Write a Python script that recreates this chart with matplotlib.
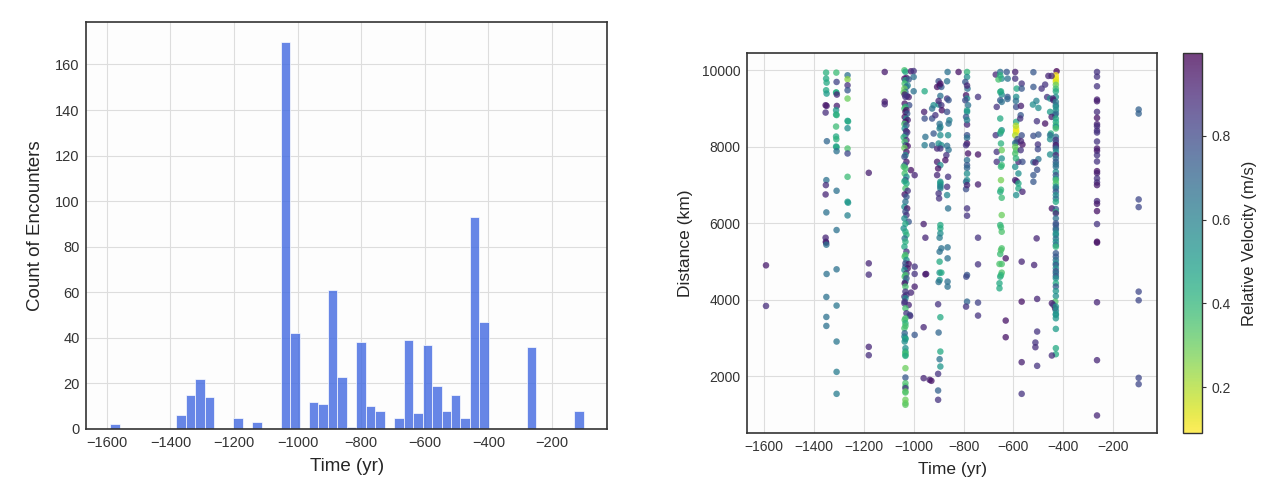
import numpy as np
import matplotlib.pyplot as plt
from matplotlib.colors import Normalize

# --------------------------
# Data
# --------------------------
# left panel: 50 equal bins between these edges
hist_lo, hist_hi = -1589.5, -100.5
bin_counts = [
    2, 0, 0, 0, 0, 0, 0, 6, 15, 22,
    14, 0, 0, 5, 0, 3, 0, 0, 170, 42,
    0, 12, 11, 61, 23, 1, 38, 10, 8, 0,
    5, 39, 7, 37, 19, 8, 15, 5, 93, 47,
    0, 0, 0, 0, 36, 0, 0, 0, 0, 8,
]

# right panel: one entry per encounter (time yr, distance km, rel. velocity m/s)
enc_time = [
    # -1590
    -1592, -1592,
    # -1350
    -1351, -1351, -1349, -1351, -1349, -1353, -1349, -1353, -1348, -1350,
    -1352, -1353, -1350, -1353, -1352, -1351, -1350, -1349, -1350, -1350, -1350,
    # -1310
    -1310, -1309, -1311, -1310, -1308, -1308, -1311, -1311, -1309, -1311,
    -1311, -1310, -1311, -1309, -1309, -1309, -1309, -1309, -1309, -1309, -1309, -1309,
    # -1265
    -1265, -1265, -1265, -1265, -1265, -1265, -1263, -1265, -1265, -1265, -1265, -1265, -1263, -1265,
    # -1180, -1116
    -1180, -1180, -1180, -1180, -1180,
    -1116, -1116, -1116,
    # -1040 .. -996
    -1037, -1033, -1011, -1000, -1000, -1037, -1029, -1033, -1020, -1036,
    -1029, -1024, -1037, -1000, -1033, -1040, -1036, -1027, -1020, -1033,
    -1036, -1018, -1033, -1037, -1029, -1033, -1026, -1036, -1030, -1024,
    -1033, -1037, -1029, -1036, -1030, -1026, -1033, -1040, -1029, -1036,
    -1032, -1024, -1037, -1029, -1033, -1037, -1029, -1036, -1040, -1011,
    -1033, -1036, -996, -1029, -1033, -1037, -1029, -1033, -1024, -1036,
    -1029, -1033, -1037, -1026, -1033, -1029, -1037, -1020, -1033, -1040,
    -1033, -1029, -1036, -1033, -1037, -1029, -1033, -1036, -1029, -1033,
    -1020, -1033, -1024, -996, -1037, -1029, -996, -1033, -1036, -1029,
    -1033, -1036, -1033, -996, -1011, -1033, -1029, -1037, -1033, -1036,
    -1020, -1037, -1033, -1029, -1016, -1014, -1033, -1036, -1033, -1033,
    -1037, -1036, -996, -1037, -1033, -1033, -1036, -1033, -1033, -1033,
    -1033, -1033, -1033, -1033, -1033, -1033, -1033, -1033, -1033, -1033,
    -1033, -1033,
    # -960 .. -935
    -956, -958, -956, -953, -956, -960, -953, -953, -960, -960, -936, -950,
    # -930 .. -905
    -926, -920, -926, -920, -926, -913, -906, -906, -906, -929, -906,
    # -900 .. -885
    -900, -896, -889, -893, -900, -889, -887, -893, -896, -893,
    -900, -889, -893, -893, -902, -893, -893, -893, -900, -898,
    -893, -893, -893, -896, -896, -889, -896, -896, -889, -896,
    -900, -902, -893, -900, -893, -896, -893, -902, -902, -902,
    -893, -900, -896, -893, -893,
    # -870 .. -857
    -864, -866, -866, -860, -866, -857, -860, -862, -866, -860,
    -869, -873, -862, -866, -866, -862, -864, -864, -864, -864,
    # -820, -786
    -820,
    -786, -786, -793, -784, -790, -786, -793, -782, -786, -790,
    -786, -786, -786, -786, -790, -782, -786, -786, -786, -790,
    -790, -786, -786, -786, -789, -786, -790, -786, -786, -786,
    -786, -786, -786,
    # -742
    -742, -742, -742, -742, -742, -742, -742,
    # -671 .. -660
    -671, -667, -671, -667, -667,
    # -653
    -653, -647, -660, -653, -647, -653, -647, -653, -647, -653,
    -650, -647, -647, -647, -650, -653, -647, -647, -653, -647,
    -647, -653, -656, -647, -647, -653, -656, -656, -653, -650,
    -650, -650, -650, -650, -650, -650,
    # -631 .. -623
    -631, -631, -631, -627, -623, -624, -624,
    # -593 .. -580
    -593, -593, -587, -589, -589, -589, -589, -589, -589, -593,
    -587, -593, -589, -593, -593, -593, -587, -580, -589, -580,
    -580, -580, -584, -593, -590, -590, -590,
    # -567
    -567, -567, -570, -571, -573, -564, -571, -564, -564, -567,
    -567, -567, -567, -567, -570,
    # -520
    -520, -520, -522, -520, -520, -520, -517, -520,
    # -512 .. -500
    -500, -506, -500, -502, -502, -500, -512, -505, -507, -505,
    -505, -512, -512, -505, -508,
    # -487 .. -465
    -487, -473, -473, -465, -460,
    # -456 .. -427
    -427, -430, -430, -430, -430, -447, -430, -430, -430, -453,
    -430, -442, -440, -430, -430, -430, -430, -453, -430, -433,
    -447, -430, -430, -430, -430, -430, -450, -453, -430, -453,
    -430, -430, -430, -430, -430, -430, -453, -430, -430, -430,
    -430, -430, -430, -430, -430, -430, -430, -430, -430, -430,
    -430, -430, -430, -446, -430, -430, -430, -430, -430, -430,
    -430, -430, -430, -430, -430, -430, -430, -430, -430, -430,
    -430, -430, -430, -430, -430, -430, -430, -430, -430, -430,
    -430, -430, -432, -446, -440, -433, -430, -430, -430, -430,
    -430, -430, -430, -430, -446,
    # -265
    -265, -265, -265, -265, -265, -265, -265, -265, -265, -265,
    -265, -265, -265, -265, -265, -265, -265, -265, -265, -265,
    -265, -265, -265, -265, -265, -265, -265, -265, -265, -265,
    # -98
    -98, -98, -98, -98, -98, -98, -98, -98,
]

enc_dist = [
    4904, 3843,
    9939, 9782, 9678, 9478, 9391, 9087, 9070, 8895, 8147, 7130,
    7000, 6756, 6287, 5626, 5521, 5495, 5443, 4678, 4078, 3556, 3321,
    9939, 9695, 9420, 9417, 9365, 9069, 8956, 8843, 8830, 8530,
    8269, 8200, 8008, 7990, 7887, 6852, 5826, 4800, 3852, 2913, 2121, 1547,
    9869, 9765, 9608, 9478, 9261, 8678, 8665, 8487, 7956, 7826, 7217, 6565, 6540, 6208,
    7321, 4956, 4661, 2774, 2556,
    9956, 9182, 9113,
    10000, 9960, 9974, 9980, 9826, 9782, 9800, 9739, 9760, 9652,
    9565, 9600, 9521, 9452, 9435, 9420, 9365, 9330, 9300, 9304,
    9130, 9087, 9043, 9000, 8960, 8913, 8869, 8782, 8739, 8700,
    8652, 8600, 8565, 8478, 8408, 8380, 8304, 8250, 8174, 8130,
    8043, 8020, 7973, 7869, 7782, 7739, 7608, 7521, 7480, 7391,
    7434, 7304, 7260, 7217, 7130, 7100, 7043, 6913, 6850, 6756,
    6695, 6565, 6434, 6391, 6304, 6217, 6130, 6043, 5990, 5869,
    5782, 5700, 5608, 5521, 5391, 5260, 5174, 5130, 5043, 4956,
    4939, 4869, 4826, 4870, 4782, 4695, 4680, 4652, 4608, 4565,
    4478, 4434, 4348, 4347, 4191, 4217, 4130, 4087, 4043, 3956,
    3869, 3913, 3782, 3652, 3608, 3582, 3521, 3478, 3391, 3321,
    3260, 3130, 3087, 3043, 3000, 2974, 2913, 2739, 2652, 2608,
    2565, 2539, 2217, 1973, 1826, 1739, 1695, 1608, 1582, 1391,
    1304, 1261,
    9452, 8913, 8739, 8260, 8043, 5982, 5626, 4670, 3287, 1956, 1913, 4678,
    8739, 9087, 9000, 8347, 8043, 8826, 9565, 7608, 7956, 1887, 7261,
    9713, 9600, 9565, 9330, 9104, 9087, 8956, 8521, 8478, 8304,
    8087, 8043, 7956, 7521, 7435, 7087, 7000, 6913, 6782, 6652,
    5956, 5869, 5739, 5626, 5261, 5348, 5000, 4713, 4713, 4521,
    4469, 3887, 3548, 3148, 2652, 2452, 2261, 2069, 1634, 1391,
    9650, 9200, 8600, 7050, 6960,
    9956, 9713, 9261, 9220, 8913, 8695, 8608, 8304, 8026, 7920,
    7782, 7652, 7217, 6956, 6739, 6391, 5374, 5087, 4478, 4348,
    9956,
    9956, 9826, 9695, 9521, 9347, 9261, 9217, 9087, 8913, 8782,
    8582, 8304, 8235, 8087, 8043, 7826, 7652, 7521, 7130, 7087,
    6895, 6391, 6200, 4652, 4608, 3956, 3826, 9600, 8950, 8700,
    7450, 7300, 7000,
    9304, 7800, 7017, 5626, 4930, 3930, 3591,
    9887, 9043, 8304, 7869, 7608,
    9956, 9782, 9760, 9435, 9365, 9217, 9174, 8739, 8434, 8347,
    8087, 7913, 7695, 7521, 7130, 6826, 6669, 6217, 5956, 5782,
    5348, 5200, 4939, 4939, 4713, 4608, 4435, 4304, 9870, 9450,
    8400, 7480, 6880, 5900, 5300, 4650,
    5087, 3461, 3026, 9956, 9782, 9304, 9250,
    9956, 9782, 9521, 9304, 9043, 8652, 8478, 8420, 8391, 8304,
    8113, 8100, 7913, 7826, 7478, 7130, 7100, 6913, 6739, 7043,
    7304, 7608, 8200, 8000, 7700, 8550, 9200,
    9652, 9521, 9069, 8826, 8739, 8061, 7913, 7608, 6826, 5000,
    3956, 2374, 1547, 8300, 8150,
    9950, 9565, 9104, 8287, 7260, 7087, 4913, 7600,
    9017, 8669, 8321, 8061, 7939, 7678, 7591, 7400, 5608, 4026,
    3174, 2887, 2765, 2278, 9200,
    9521, 9626, 8608, 9300, 9852,
    9974, 9869, 9800, 9760, 9700, 9852, 9620, 9521, 9450, 9261,
    9304, 9261, 9217, 9174, 9087, 9043, 8956, 8913, 8869, 8826,
    8782, 8739, 8652, 8565, 8521, 8480, 8347, 8304, 8261, 8200,
    8180, 8113, 8043, 8000, 7950, 7869, 7800, 7782, 7700, 7608,
    7540, 7478, 7347, 7260, 7174, 7130, 7043, 6960, 6913, 6826,
    6739, 6650, 6565, 6391, 6374, 6300, 6261, 6130, 6000, 5956,
    5870, 5826, 5740, 5696, 5600, 5521, 5435, 5391, 5220, 5130,
    5043, 4956, 4913, 4826, 4750, 4695, 4620, 4565, 4435, 4350,
    4234, 4100, 3956, 3913, 3869, 3782, 3826, 3721, 3634, 3608,
    3521, 3243, 2739, 2582, 2548,
    9956, 9834, 9582, 9234, 9191, 8913, 8756, 8591, 8539, 8426,
    8374, 8139, 7956, 7895, 7782, 7617, 7365, 7313, 7174, 7069,
    7000, 6582, 6513, 6321, 5982, 5521, 5495, 3939, 2426, 982,
    8974, 8869, 6626, 6426, 4217, 3991, 1965, 1800,
]

enc_vel = [
    0.93, 0.88,
    0.42, 0.45, 0.45, 0.45, 0.50, 0.95, 0.93, 0.88, 0.70, 0.66,
    0.88, 0.90, 0.66, 0.90, 0.90, 0.92, 0.66, 0.66, 0.66, 0.66, 0.66,
    0.38, 0.82, 0.40, 0.45, 0.90, 0.92, 0.50, 0.45, 0.42, 0.38,
    0.45, 0.42, 0.50, 0.45, 0.66, 0.66, 0.66, 0.66, 0.64, 0.64, 0.62, 0.62,
    0.66, 0.25, 0.86, 0.75, 0.30, 0.48, 0.45, 0.55, 0.35, 0.80, 0.38, 0.50, 0.52, 0.60,
    0.92, 0.90, 0.88, 0.90, 0.88,
    0.93, 0.93, 0.90,
    0.36, 0.45, 0.93, 0.86, 0.66, 0.95, 0.95, 0.45, 0.75, 0.36,
    0.78, 0.60, 0.30, 0.66, 0.66, 0.30, 0.92, 0.80, 0.92, 0.86,
    0.95, 0.78, 0.42, 0.36, 0.95, 0.95, 0.75, 0.95, 0.55, 0.92,
    0.95, 0.36, 0.78, 0.55, 0.92, 0.86, 0.75, 0.42, 0.90, 0.36,
    0.78, 0.95, 0.30, 0.95, 0.55, 0.78, 0.93, 0.75, 0.36, 0.95,
    0.36, 0.36, 0.90, 0.55, 0.78, 0.45, 0.45, 0.36, 0.86, 0.95,
    0.75, 0.66, 0.55, 0.95, 0.78, 0.86, 0.55, 0.75, 0.45, 0.55,
    0.45, 0.42, 0.66, 0.42, 0.45, 0.86, 0.36, 0.36, 0.55, 0.78,
    0.95, 0.75, 0.95, 0.86, 0.55, 0.86, 0.86, 0.36, 0.36, 0.78,
    0.66, 0.95, 0.36, 0.92, 0.90, 0.86, 0.86, 0.88, 0.55, 0.86,
    0.90, 0.86, 0.36, 0.86, 0.78, 0.86, 0.36, 0.36, 0.42, 0.36,
    0.36, 0.72, 0.75, 0.62, 0.55, 0.45, 0.55, 0.55, 0.45, 0.38,
    0.36, 0.45, 0.30, 0.75, 0.35, 0.36, 0.86, 0.30, 0.35, 0.30,
    0.30, 0.32,
    0.45, 0.92, 0.78, 0.66, 0.62, 0.92, 0.90, 0.95, 0.90, 0.90, 0.92, 0.92,
    0.78, 0.55, 0.66, 0.75, 0.72, 0.86, 0.95, 0.92, 0.90, 0.95, 0.90,
    0.78, 0.95, 0.75, 0.66, 0.55, 0.86, 0.95, 0.55, 0.62, 0.55,
    0.55, 0.55, 0.86, 0.55, 0.95, 0.55, 0.55, 0.62, 0.86, 0.86,
    0.45, 0.45, 0.55, 0.62, 0.66, 0.66, 0.45, 0.52, 0.45, 0.52,
    0.66, 0.86, 0.45, 0.70, 0.45, 0.66, 0.52, 0.86, 0.72, 0.86,
    0.95, 0.90, 0.66, 0.50, 0.60,
    0.66, 0.66, 0.86, 0.75, 0.78, 0.60, 0.66, 0.55, 0.66, 0.66,
    0.86, 0.95, 0.86, 0.86, 0.58, 0.66, 0.66, 0.66, 0.66, 0.66,
    0.95,
    0.40, 0.55, 0.75, 0.66, 0.95, 0.55, 0.80, 0.66, 0.55, 0.75,
    0.90, 0.78, 0.66, 0.95, 0.86, 0.95, 0.66, 0.75, 0.55, 0.66,
    0.78, 0.86, 0.86, 0.75, 0.80, 0.70, 0.86, 0.90, 0.50, 0.60,
    0.70, 0.55, 0.90,
    0.86, 0.95, 0.92, 0.86, 0.86, 0.82, 0.86,
    0.90, 0.86, 0.86, 0.86, 0.86,
    0.66, 0.55, 0.36, 0.42, 0.55, 0.75, 0.66, 0.45, 0.55, 0.55,
    0.42, 0.30, 0.55, 0.38, 0.28, 0.45, 0.38, 0.30, 0.40, 0.35,
    0.35, 0.38, 0.35, 0.35, 0.35, 0.45, 0.45, 0.45, 0.42, 0.45,
    0.42, 0.40, 0.40, 0.38, 0.35, 0.40,
    0.95, 0.95, 0.95, 0.75, 0.66, 0.75, 0.70,
    0.92, 0.86, 0.45, 0.55, 0.78, 0.45, 0.12, 0.092, 0.12, 0.20,
    0.95, 0.62, 0.35, 0.35, 0.55, 0.90, 0.92, 0.45, 0.55, 0.45,
    0.55, 0.90, 0.78, 0.30, 0.40, 0.20, 0.66,
    0.86, 0.75, 0.92, 0.75, 0.86, 0.95, 0.86, 0.78, 0.90, 0.90,
    0.95, 0.92, 0.86, 0.78, 0.90,
    0.75, 0.75, 0.55, 0.78, 0.75, 0.75, 0.90, 0.70,
    0.55, 0.86, 0.75, 0.86, 0.80, 0.66, 0.90, 0.78, 0.90, 0.90,
    0.86, 0.86, 0.88, 0.86, 0.60,
    0.86, 0.86, 0.95, 0.86, 0.90,
    0.997, 0.10, 0.10, 0.12, 0.15, 0.90, 0.30, 0.36, 0.45, 0.55,
    0.55, 0.90, 0.92, 0.62, 0.66, 0.55, 0.55, 0.50, 0.66, 0.70,
    0.92, 0.45, 0.45, 0.40, 0.55, 0.36, 0.45, 0.66, 0.66, 0.55,
    0.86, 0.78, 0.95, 0.86, 0.66, 0.55, 0.55, 0.90, 0.66, 0.75,
    0.66, 0.66, 0.55, 0.78, 0.55, 0.36, 0.35, 0.55, 0.66, 0.75,
    0.55, 0.66, 0.45, 0.95, 0.75, 0.42, 0.90, 0.66, 0.78, 0.75,
    0.75, 0.66, 0.55, 0.55, 0.66, 0.55, 0.66, 0.40, 0.75, 0.75,
    0.66, 0.55, 0.75, 0.55, 0.78, 0.66, 0.75, 0.55, 0.45, 0.75,
    0.52, 0.55, 0.35, 0.92, 0.86, 0.95, 0.52, 0.55, 0.55, 0.52,
    0.52, 0.50, 0.45, 0.45, 0.88,
    0.86, 0.86, 0.86, 0.92, 0.92, 0.88, 0.95, 0.92, 0.88, 0.88,
    0.86, 0.86, 0.93, 0.93, 0.86, 0.86, 0.95, 0.92, 0.86, 0.88,
    0.93, 0.88, 0.93, 0.95, 0.86, 0.96, 0.95, 0.90, 0.90, 0.90,
    0.72, 0.72, 0.80, 0.80, 0.80, 0.80, 0.80, 0.80,
]

# --------------------------
# Style
# --------------------------
plt.rcParams['font.family'] = ['Liberation Sans', 'DejaVu Sans']
TEXT = '#262626'
TICK = '#333333'


def style_axes(ax, tick_size):
    ax.set_facecolor('#fdfdfd')
    ax.grid(True, color='#dddddd', linewidth=0.8)
    ax.set_axisbelow(True)
    for sp in ax.spines.values():
        sp.set_color('#333333')
        sp.set_linewidth(1.2)
    ax.tick_params(length=0, labelsize=tick_size, labelcolor=TICK, pad=5)


fig = plt.figure(figsize=(12.68, 4.9), dpi=100)

# --------------------------
# Left: histogram of encounter times
# --------------------------
ax1 = fig.add_axes([0.0682, 0.1245, 0.4107, 0.830])
edges = np.linspace(hist_lo, hist_hi, len(bin_counts) + 1)
ax1.hist(edges[:-1], bins=edges, weights=bin_counts, color='royalblue',
         alpha=0.8, edgecolor='white', linewidth=0.6)
style_axes(ax1, 10.5)
ax1.set_xticks(range(-1600, -199, 200))
ax1.set_yticks(range(0, 161, 20))
ax1.set_xlabel('Time (yr)', fontsize=13.5, color=TEXT, labelpad=6)
ax1.set_ylabel('Count of Encounters', fontsize=13.5, color=TEXT, labelpad=8)

# --------------------------
# Right: distance vs time coloured by velocity
# --------------------------
ax2 = fig.add_axes([0.5894, 0.1169, 0.3233, 0.7749])
sc = ax2.scatter(enc_time, enc_dist, c=enc_vel, cmap='viridis_r',
                 norm=Normalize(min(enc_vel), max(enc_vel)),
                 s=22, alpha=0.75, edgecolors='none')
style_axes(ax2, 10)
ax2.set_xticks(range(-1600, -199, 200))
ax2.set_yticks(range(2000, 10001, 2000))
ax2.set_xlabel('Time (yr)', fontsize=12.5, color=TEXT, labelpad=6)
ax2.set_ylabel('Distance (km)', fontsize=12.5, color=TEXT, labelpad=6)

cax = fig.add_axes([0.9332, 0.1169, 0.0150, 0.7749])
cb = fig.colorbar(sc, cax=cax)
cb.set_ticks([0.2, 0.4, 0.6, 0.8])
cb.ax.tick_params(labelsize=10, length=3, width=0.8, color='#333333', labelcolor=TICK)
cb.outline.set_edgecolor('#333333')
cb.outline.set_linewidth(1.0)
cb.set_label('Relative Velocity (m/s)', fontsize=12, color=TEXT, labelpad=8)

fig.savefig('out.png', dpi=100, facecolor='white')
